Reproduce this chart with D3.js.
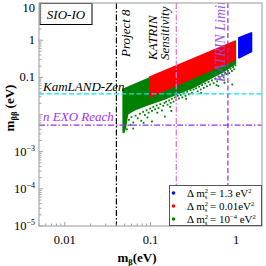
<!DOCTYPE html>
<html>
<head>
<meta charset="utf-8">
<script src="https://cdn.jsdelivr.net/npm/d3@7"></script>
<style>
  html, body { margin: 0; padding: 0; background: #fff; }
  #chart { width: 266px; height: 266px; }
  text { font-family: "Liberation Serif", "DejaVu Serif", serif; }
</style>
</head>
<body>
<div id="chart"></div>
<script>
// axis ranges and ticks
const xDomain = [0.005, 2];
const yDomain = [1e-5, 10];
const xTicks = [0.01, 0.1, 1];
const xTickLabels = ["0.01", "0.1", "1"];
const yTicks = [10, 1, 0.1, 1e-3, 1e-4, 1e-5];
const yTickLabels = [["10", ""], ["1", ""], ["0.1", ""], ["10", "\u22123"], ["10", "\u22124"], ["10", "\u22125"]];

// allowed regions as [mβ, mββ] corners
const greenRegion = [[0.047, 0.049], [1.0, 1.0], [1.0, 0.23], [0.726, 0.14], [0.488, 0.086],
    [0.327, 0.0525], [0.219, 0.0363], [0.147, 0.0251], [0.0935, 0.0174], [0.066, 0.0128],
    [0.055, 0.010], [0.0521, 0.0045], [0.0494, 0.0031], [0.047, 0.0033]];
const redRegion = [[0.096, 0.105], [0.98, 1.0], [0.98, 0.29], [0.096, 0.028]];
const blueRegion = [[1.08, 1.15], [1.5, 1.55], [1.5, 0.5], [1.08, 0.34]];

// loose green points below the dense band
const greenPoints = [
    [0.056, 0.0072], [0.060, 0.0085], [0.063, 0.0061], [0.067, 0.0093], [0.071, 0.0079], [0.058, 0.0052],
    [0.053, 0.0040], [0.075, 0.0105], [0.078, 0.0068],
    [0.082, 0.0118], [0.086, 0.0097], [0.090, 0.0130], [0.095, 0.0112], [0.099, 0.0145], [0.092, 0.0083], [0.104, 0.0125],
    [0.108, 0.0160], [0.113, 0.0138], [0.118, 0.0175], [0.124, 0.0150], [0.130, 0.0190], [0.136, 0.0128],
    [0.141, 0.0172], [0.146, 0.0205], [0.120, 0.0112],
    [0.152, 0.0222], [0.158, 0.0184], [0.165, 0.0238], [0.172, 0.0205], [0.178, 0.0265], [0.186, 0.0222],
    [0.193, 0.0290], [0.200, 0.0246], [0.208, 0.0318], [0.215, 0.0270], [0.170, 0.0160],
    [0.225, 0.0335], [0.235, 0.0290], [0.245, 0.0372], [0.256, 0.0318], [0.268, 0.0410], [0.280, 0.0350],
    [0.293, 0.0452], [0.305, 0.0385], [0.318, 0.0470], [0.260, 0.0265],
    [0.340, 0.0505], [0.355, 0.0420], [0.370, 0.0560], [0.385, 0.0470], [0.400, 0.0620], [0.418, 0.0520],
    [0.435, 0.0680], [0.455, 0.0575], [0.475, 0.0750], [0.495, 0.0640], [0.390, 0.0380],
    [0.520, 0.083], [0.545, 0.070], [0.570, 0.092], [0.600, 0.078], [0.625, 0.105], [0.655, 0.088],
    [0.685, 0.118], [0.715, 0.100], [0.745, 0.132], [0.590, 0.062],
    [0.770, 0.122], [0.800, 0.150], [0.830, 0.130], [0.860, 0.170], [0.890, 0.148], [0.920, 0.190],
    [0.950, 0.165], [0.980, 0.210],
    [0.900, 0.064], [0.730, 0.071], [0.620, 0.058],
    [0.0628, 0.0042], [0.104, 0.0065], [0.147, 0.0088], [0.175, 0.0125], [0.083, 0.0060]];

// experimental bounds
const vLines = [
    { name: "Project 8", x: 0.04, color: "#000", dash: "6,2,1.5,2" },
    { name: "KATRIN Sensitivity", x: 0.2, color: "#e070d8", dash: "6,2,1.5,2" },
    { name: "KATRIN Limit", x: 0.8, color: "#8a2be2", dash: "5,2.5" }
];
const hLines = [
    { name: "KamLAND-Zen", y: 0.036, color: "#00e5ee", dash: "5,2.5" },
    { name: "n EXO Reach", y: 0.0052, color: "#9932e6", dash: "6,2,1.5,2" }
];

const legendItems = [
    { color: "#0000ff", value: "1.3 eV" },
    { color: "#ff0000", value: "0.01eV" },
    { color: "#008000", value: "10", exp: "\u22124", unit: " eV" }
];

document.addEventListener("DOMContentLoaded", () => {
    const width = 266, height = 266;
    const plot = { left: 39, top: 3, right: 262, bottom: 226 };

    const svg = d3.select("#chart").append("svg")
        .attr("width", width)
        .attr("height", height);

    const x = d3.scaleLog().domain(xDomain).range([plot.left, plot.right]);
    const y = d3.scaleLog().domain(yDomain).range([plot.bottom, plot.top]);

    svg.append("clipPath").attr("id", "clip")
        .append("rect")
        .attr("x", plot.left).attr("y", plot.top)
        .attr("width", plot.right - plot.left).attr("height", plot.bottom - plot.top);

    const g = svg.append("g").attr("clip-path", "url(#clip)");
    const line = d3.line().x(d => x(d[0])).y(d => y(d[1])).curve(d3.curveLinearClosed);

    // regions
    g.append("path").attr("d", line(greenRegion)).attr("fill", "#008000");
    g.selectAll("rect.pt")
        .data(greenPoints)
        .join("rect")
        .attr("class", "pt")
        .attr("x", d => x(d[0]) - 0.9)
        .attr("y", d => y(d[1]) - 0.9)
        .attr("width", 1.8)
        .attr("height", 1.8)
        .attr("fill", "#008000");
    g.append("path").attr("d", line(redRegion)).attr("fill", "#ff0000");
    g.append("path").attr("d", line(blueRegion)).attr("fill", "#0000ff")
        .attr("stroke", "#0000ff").attr("stroke-width", 2).attr("stroke-linejoin", "round");

    // bound lines
    g.selectAll("line.v")
        .data(vLines)
        .join("line")
        .attr("x1", d => x(d.x)).attr("x2", d => x(d.x))
        .attr("y1", plot.top).attr("y2", plot.bottom)
        .attr("stroke", d => d.color)
        .attr("stroke-width", 1.2)
        .attr("stroke-dasharray", d => d.dash);

    g.selectAll("line.h")
        .data(hLines)
        .join("line")
        .attr("x1", plot.left).attr("x2", plot.right)
        .attr("y1", d => y(d.y)).attr("y2", d => y(d.y))
        .attr("stroke", d => d.color)
        .attr("stroke-width", 1.2)
        .attr("stroke-dasharray", d => d.dash);

    // labels of the bounds
    const vText = (txt, px, py, color, size) => g.append("text")
        .attr("transform", `translate(${px},${py}) rotate(-90)`)
        .attr("font-size", size)
        .attr("font-style", "italic")
        .attr("fill", color)
        .text(txt);
    vText("Project 8", x(0.04) + 14, 57, "#000", 13);
    vText("KATRIN", x(0.2) - 19, 60, "#000", 13);
    vText("Sensitivity", x(0.2) - 7, 60, "#000", 13);
    vText("KATRIN Limit", x(0.8) - 3, 82, "#9448e0", 14).attr("opacity", 0.9);

    g.append("text")
        .attr("x", 43).attr("y", y(0.036) - 3)
        .attr("font-size", 13).attr("font-style", "italic")
        .text("KamLAND-Zen");
    g.append("text")
        .attr("x", 43).attr("y", y(0.0052) - 4)
        .attr("font-size", 13).attr("font-style", "italic")
        .attr("fill", "#a030f0")
        .text("n EXO Reach");

    // SIO-IO box
    svg.append("rect")
        .attr("x", 40).attr("y", 3.5).attr("width", 52).attr("height", 21)
        .attr("fill", "#fff").attr("stroke", "#000").attr("stroke-width", 1);
    svg.append("text")
        .attr("x", 66).attr("y", 19)
        .attr("text-anchor", "middle")
        .attr("font-size", 13).attr("font-style", "italic")
        .text("SIO-IO");

    // minor ticks
    const minor = (dom) => {
        const out = [];
        for (let e = Math.floor(Math.log10(dom[0])); e <= Math.ceil(Math.log10(dom[1])); e++) {
            for (let k = 1; k < 10; k++) {
                const v = k * Math.pow(10, e);
                if (v >= dom[0] && v <= dom[1]) out.push({ v, major: k === 1 });
            }
        }
        return out;
    };

    const axes = svg.append("g").attr("stroke", "#888");
    axes.selectAll("line.xt")
        .data(minor(xDomain))
        .join("line")
        .attr("x1", d => x(d.v)).attr("x2", d => x(d.v))
        .attr("y1", plot.bottom).attr("y2", d => plot.bottom - (d.major ? 4 : 2.5))
        .attr("stroke-width", 0.8);
    axes.selectAll("line.yt")
        .data(minor(yDomain))
        .join("line")
        .attr("y1", d => y(d.v)).attr("y2", d => y(d.v))
        .attr("x1", plot.left).attr("x2", d => plot.left + (d.major ? 4 : 2.5))
        .attr("stroke-width", 0.8);

    // frame
    svg.append("rect")
        .attr("x", plot.left).attr("y", plot.top)
        .attr("width", plot.right - plot.left).attr("height", plot.bottom - plot.top)
        .attr("fill", "none")
        .attr("stroke", "#aaa")
        .attr("stroke-width", 1.2);

    // tick labels
    svg.selectAll("text.xl")
        .data(xTicks)
        .join("text")
        .attr("x", d => x(d))
        .attr("y", 244)
        .attr("text-anchor", "middle")
        .attr("font-size", 12.5)
        .text((d, i) => xTickLabels[i]);

    const yl = svg.selectAll("text.yl")
        .data(yTicks)
        .join("text")
        .attr("x", 35)
        .attr("y", d => Math.max(y(d) + 4, 12))
        .attr("text-anchor", "end")
        .attr("font-size", 12.5);
    yl.append("tspan").text((d, i) => yTickLabels[i][0]);
    yl.append("tspan")
        .attr("dy", -5)
        .attr("font-size", 8)
        .text((d, i) => yTickLabels[i][1]);

    // axis titles
    const xt = svg.append("text")
        .attr("x", 137).attr("y", 262)
        .attr("text-anchor", "middle")
        .attr("font-size", 13).attr("font-weight", "bold");
    xt.append("tspan").text("m");
    xt.append("tspan").attr("dy", 3).attr("font-size", 8.5).text("\u03b2");
    xt.append("tspan").attr("dy", -3).text("(eV)");

    const yt = svg.append("text")
        .attr("transform", "translate(14,108) rotate(-90)")
        .attr("text-anchor", "middle")
        .attr("font-size", 13).attr("font-weight", "bold");
    yt.append("tspan").text("m");
    yt.append("tspan").attr("dy", 3).attr("font-size", 8.5).text("\u03b2\u03b2");
    yt.append("tspan").attr("dy", -3).text(" (eV)");

    // legend
    const lg = svg.append("g");
    lg.append("rect")
        .attr("x", 169.5).attr("y", 185.5).attr("width", 92).attr("height", 40)
        .attr("fill", "#fff").attr("stroke", "#555").attr("stroke-width", 1);
    legendItems.forEach((d, i) => {
        const cy = 193 + i * 13;
        lg.append("circle").attr("cx", 173.5).attr("cy", cy).attr("r", 1.8).attr("fill", d.color);
        const t = lg.append("text")
            .attr("x", 187).attr("y", cy + 4)
            .attr("font-size", 11);
        t.append("tspan").text("\u0394 m");
        t.append("tspan").attr("dy", -4).attr("font-size", 6.5).text("2");
        t.append("tspan").attr("dx", -3.3).attr("dy", 6).attr("font-size", 6.5).text("s");
        t.append("tspan").attr("dy", -2).text(" = " + d.value);
        if (d.exp) {
            t.append("tspan").attr("dy", -4).attr("font-size", 6.5).text(d.exp);
            t.append("tspan").attr("dy", 4).text(d.unit);
        }
        t.append("tspan").attr("dy", -4).attr("font-size", 6.5).text("2");
    });
});
</script>
</body>
</html>
